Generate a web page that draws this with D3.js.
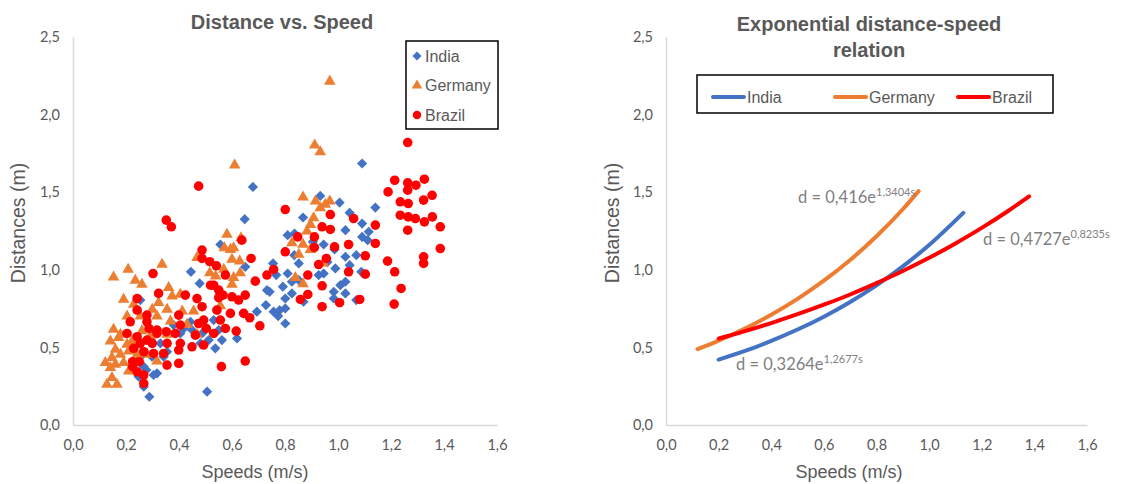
<!DOCTYPE html>
<html><head><meta charset="utf-8">
<script src="https://cdn.jsdelivr.net/npm/d3@7"></script>
<style>body{margin:0;background:#fff}svg{display:block}</style>
</head><body>
<svg id="c" width="1143" height="484"></svg>
<script>
// ---------- DATA ----------
const seriesNames = ["India", "Germany", "Brazil"];
const xTicks = [0,0.2,0.4,0.6,0.8,1.0,1.2,1.4,1.6];
const yTicks = [0,0.5,1.0,1.5,2.0,2.5];

const indiaSpeed = [1.091,0.679,0.933,1.006,1.141,0.868,0.648,1.044,1.091,1.028,1.116,0.810,0.836,0.946,0.987,1.091,1.112,0.556,0.650,0.445,0.478,0.835,0.852,1.028,1.069,1.044,0.990,0.755,0.767,0.810,0.927,0.946,1.088,0.732,0.742,0.792,0.826,0.801,0.984,1.009,1.028,1.028,1.069,0.984,0.870,0.728,0.694,0.757,0.774,0.801,0.801,0.852,0.826,0.619,0.550,0.487,0.512,0.537,0.481,0.449,0.443,0.418,0.506,0.288,0.267,0.304,0.317,0.277,0.248,0.223,0.254,0.298,0.330,0.342,0.304,0.380,0.405,0.355,0.267,0.562,0.531,0.254,0.905,0.960,0.780];
const indiaDist  = [1.685,1.534,1.476,1.433,1.401,1.337,1.326,1.367,1.298,1.255,1.245,1.223,1.234,1.163,1.131,1.212,1.191,1.163,1.019,0.987,0.912,1.094,1.041,1.084,1.094,1.030,1.009,1.041,0.966,0.976,0.966,0.976,0.987,0.869,0.858,0.891,0.848,0.815,0.858,0.901,0.923,0.848,0.805,0.815,0.794,0.773,0.730,0.730,0.702,0.751,0.654,0.934,0.923,0.558,0.612,0.590,0.547,0.494,0.526,0.612,0.665,0.622,0.215,0.182,0.247,0.322,0.333,0.354,0.311,0.365,0.440,0.440,0.526,0.440,0.590,0.644,0.590,0.472,0.376,0.547,0.676,0.805,1.180,1.050,0.740];

const germanySpeed = [0.969,0.912,0.933,0.610,0.868,0.915,0.969,0.933,0.952,0.908,0.896,0.883,0.826,0.868,0.896,0.852,0.839,0.868,0.581,0.571,0.594,0.606,0.600,0.629,0.634,0.481,0.516,0.538,0.606,0.600,0.631,0.569,0.336,0.208,0.153,0.235,0.260,0.361,0.191,0.374,0.405,0.229,0.323,0.355,0.412,0.455,0.556,0.204,0.254,0.317,0.368,0.430,0.153,0.172,0.141,0.204,0.160,0.179,0.147,0.122,0.160,0.191,0.147,0.128,0.166,0.210,0.260,0.292,0.317,0.355,0.468,0.279,0.210,0.179,0.223,0.242,0.141,0.299,0.468,0.945];
const germanyDist  = [2.221,1.809,1.766,1.680,1.474,1.448,1.448,1.406,1.427,1.341,1.298,1.255,1.180,1.170,1.137,1.105,0.955,0.916,1.234,1.148,1.137,1.148,1.073,1.062,1.212,1.084,0.987,0.966,0.955,0.912,0.987,1.009,1.041,1.009,0.959,0.938,0.912,0.891,0.815,0.837,0.848,0.783,0.794,0.751,0.740,0.740,0.773,0.708,0.708,0.708,0.676,0.654,0.622,0.569,0.547,0.526,0.494,0.461,0.440,0.408,0.397,0.408,0.311,0.268,0.268,0.354,0.612,0.579,0.418,0.590,0.590,0.461,0.483,0.590,0.547,0.461,0.376,0.751,1.084,1.050];

const brazilSpeed = [1.263,0.474,0.352,0.371,0.801,1.214,1.189,1.263,1.263,1.294,1.326,1.355,1.235,1.265,1.323,1.235,1.265,1.292,1.326,1.356,1.263,1.386,1.386,1.323,1.323,1.187,1.214,1.238,1.212,1.141,1.141,1.103,1.103,1.059,1.040,1.040,1.082,1.006,0.971,0.971,0.987,0.940,0.956,0.927,0.940,0.940,0.911,0.911,0.886,0.886,0.858,0.848,0.801,0.757,0.732,0.705,0.688,0.667,0.672,0.637,0.650,0.625,0.644,0.616,0.650,0.560,0.541,0.516,0.487,0.487,0.468,0.487,0.519,0.550,0.550,0.566,0.575,0.600,0.594,0.543,0.556,0.575,0.531,0.493,0.503,0.474,0.462,0.493,0.449,0.424,0.399,0.405,0.386,0.405,0.399,0.399,0.355,0.355,0.342,0.323,0.302,0.279,0.279,0.317,0.304,0.242,0.216,0.204,0.242,0.242,0.254,0.279,0.229,0.267,0.225,0.250,0.225,0.242,0.267,0.267,0.299,0.287,0.352,0.317,0.531];
const brazilDist  = [1.820,1.539,1.320,1.277,1.388,1.577,1.502,1.560,1.513,1.545,1.584,1.480,1.438,1.427,1.449,1.352,1.341,1.330,1.309,1.341,1.255,1.277,1.137,1.084,1.041,1.056,0.987,0.880,0.779,1.288,1.170,1.090,0.972,1.330,1.163,0.987,0.809,0.788,1.356,1.260,1.148,1.277,1.073,1.034,0.897,0.762,1.212,1.144,0.966,0.841,0.809,1.212,1.116,1.002,0.966,0.639,0.927,0.691,1.073,1.191,0.837,0.805,0.719,0.605,0.412,0.376,1.026,1.052,1.127,1.073,0.815,0.762,0.901,0.869,0.820,0.837,0.966,0.826,0.719,0.740,0.676,0.622,0.590,0.676,0.622,0.654,0.579,0.515,0.504,0.837,0.708,0.644,0.590,0.526,0.483,0.397,0.526,0.386,0.461,0.848,0.976,0.708,0.665,0.612,0.461,0.815,0.665,0.590,0.740,0.569,0.526,0.547,0.494,0.472,0.408,0.408,0.376,0.343,0.322,0.268,0.526,0.622,0.601,0.590,0.901];

// trend curves
const indiaFitS   = [0.20,0.30,0.40,0.50,0.60,0.70,0.80,0.90,1.00,1.13];
const indiaFitD   = [0.421,0.477,0.542,0.615,0.698,0.793,0.900,1.022,1.160,1.367];
const germanyFitS = [0.12,0.20,0.30,0.40,0.50,0.60,0.70,0.80,0.90,0.96];
const germanyFitD = [0.489,0.544,0.622,0.711,0.813,0.930,1.063,1.216,1.390,1.507];
const brazilFitS  = [0.20,0.30,0.40,0.50,0.60,0.70,0.80,0.90,1.00,1.10,1.20,1.30,1.38];
const brazilFitD  = [0.557,0.605,0.657,0.714,0.775,0.841,0.914,0.992,1.077,1.170,1.270,1.379,1.473];
const equations = [
  {name:"India",   base:"d = 0,3264e", exp:"1,2677s"},
  {name:"Germany", base:"d = 0,416e",  exp:"1,3404s"},
  {name:"Brazil",  base:"d = 0,4727e", exp:"0,8235s"}
];
// ---------- STYLE ----------
const colors = {India:"#4472C4", Germany:"#ED7D31", Brazil:"#FF0000"};
const txt = "#595959";
const fmt = d => d.toFixed(1).replace(".", ",");
const sans = "'Liberation Sans', Arial, sans-serif";
const tickFont = "Lato, 'Open Sans', sans-serif";

const svg = d3.select("#c");

function panel(x0, x1, yLabelX, xLabelX) {
  const x = d3.scaleLinear().domain([0,1.6]).range([x0,x1]);
  const y = d3.scaleLinear().domain([0,2.5]).range([425,37]);
  const g = svg.append("g");
  const ax = g.append("g").attr("transform","translate(0,425)")
    .call(d3.axisBottom(x).tickValues(xTicks).tickFormat(fmt).tickSize(0).tickPadding(15));
  const ay = g.append("g").attr("transform",`translate(${x0},0)`)
    .call(d3.axisLeft(y).tickValues(yTicks).tickFormat(fmt).tickSize(0).tickPadding(13));
  [ax, ay].forEach(a => {
    a.select(".domain").attr("stroke","#d9d9d9").attr("stroke-width",1.5);
    a.selectAll("text").attr("fill",txt).style("font-family",tickFont).style("font-size","14.5px");
  });
  g.append("text").attr("x",xLabelX).attr("y",478).attr("text-anchor","middle")
    .attr("fill",txt).style("font-family",sans).style("font-size","18px").text("Speeds (m/s)");
  g.append("text").attr("transform",`translate(${yLabelX},223) rotate(-90)`).attr("text-anchor","middle")
    .attr("fill",txt).style("font-family",sans).style("font-size","19.5px").text("Distances (m)");
  return {x, y, g};
}

const shapes = {India:d3.symbolSquare, Germany:d3.symbolTriangle, Brazil:d3.symbolCircle};
const sizes = {India:52, Germany:58, Brazil:72};
const extra = {India:" rotate(45)", Germany:"", Brazil:""};

// ---------- LEFT ----------
const L = panel(73, 497, 25, 255);
svg.append("text").attr("x",282).attr("y",29).attr("text-anchor","middle").attr("fill",txt)
  .style("font-family",sans).style("font-size","20px").style("font-weight","bold")
  .text("Distance vs. Speed");

const scatter = {
  India: indiaSpeed.map((s,i)=>[s, indiaDist[i]]),
  Germany: germanySpeed.map((s,i)=>[s, germanyDist[i]]),
  Brazil: brazilSpeed.map((s,i)=>[s, brazilDist[i]])
};
seriesNames.forEach(n => {
  const sym = d3.symbol().type(shapes[n]).size(sizes[n]);
  L.g.append("g").selectAll("path").data(scatter[n]).join("path")
    .attr("d", sym)
    .attr("transform", d => `translate(${L.x(d[0])},${L.y(d[1]) + (n==="Germany"?1:0)})${extra[n]}`)
    .attr("fill", colors[n]);
});
// left legend
const lg = svg.append("g");
lg.append("rect").attr("x",406).attr("y",41).attr("width",92).attr("height",88)
  .attr("fill","#fff").attr("stroke","#000").attr("stroke-width",1.5);
seriesNames.forEach((n,i) => {
  const yy = 56 + i*29.5;
  lg.append("path").attr("d", d3.symbol().type(shapes[n]).size(n==="India"?40:n==="Germany"?48:56)())
    .attr("transform",`translate(417,${yy})${extra[n]}`).attr("fill",colors[n]);
  lg.append("text").attr("x",425).attr("y",yy+5.5).attr("fill",txt)
    .style("font-family",sans).style("font-size","16px").text(n);
});

// ---------- RIGHT ----------
const R = panel(666, 1087, 619, 849);
svg.append("text").attr("x",869).attr("y",31).attr("text-anchor","middle").attr("fill",txt)
  .style("font-family",sans).style("font-size","20px").style("font-weight","bold")
  .text("Exponential distance-speed");
svg.append("text").attr("x",869).attr("y",57).attr("text-anchor","middle").attr("fill",txt)
  .style("font-family",sans).style("font-size","20px").style("font-weight","bold")
  .text("relation");

const fits = {
  India: indiaFitS.map((s,i)=>[s, indiaFitD[i]]),
  Germany: germanyFitS.map((s,i)=>[s, germanyFitD[i]]),
  Brazil: brazilFitS.map((s,i)=>[s, brazilFitD[i]])
};
const line = d3.line().x(d=>R.x(d[0])).y(d=>R.y(d[1])).curve(d3.curveMonotoneX);
seriesNames.forEach(n => {
  R.g.append("path").attr("d", line(fits[n])).attr("fill","none")
    .attr("stroke", colors[n]).attr("stroke-width",4).attr("stroke-linecap","round");
});
// equations
const eqPos = {India:[736,370], Germany:[798,203], Brazil:[983,245]};
equations.forEach(e => {
  const t = R.g.append("text").attr("x",eqPos[e.name][0]).attr("y",eqPos[e.name][1])
    .attr("fill","#7f7f7f").style("font-family",tickFont).style("font-size","16.5px");
  t.append("tspan").text(e.base);
  t.append("tspan").attr("dy",-7).style("font-size","11px").text(e.exp);
});
// right legend
const rg = svg.append("g");
rg.append("rect").attr("x",697).attr("y",75).attr("width",356).attr("height",38)
  .attr("fill","#fff").attr("stroke","#000").attr("stroke-width",1.5);
const legX = [713, 835, 958];
seriesNames.forEach((n,i) => {
  rg.append("line").attr("x1",legX[i]).attr("x2",legX[i]+31).attr("y1",97).attr("y2",97)
    .attr("stroke",colors[n]).attr("stroke-width",4).attr("stroke-linecap","round");
  rg.append("text").attr("x",legX[i]+34).attr("y",102.5).attr("fill",txt)
    .style("font-family",sans).style("font-size","16px").text(n);
});
</script>
</body></html>
